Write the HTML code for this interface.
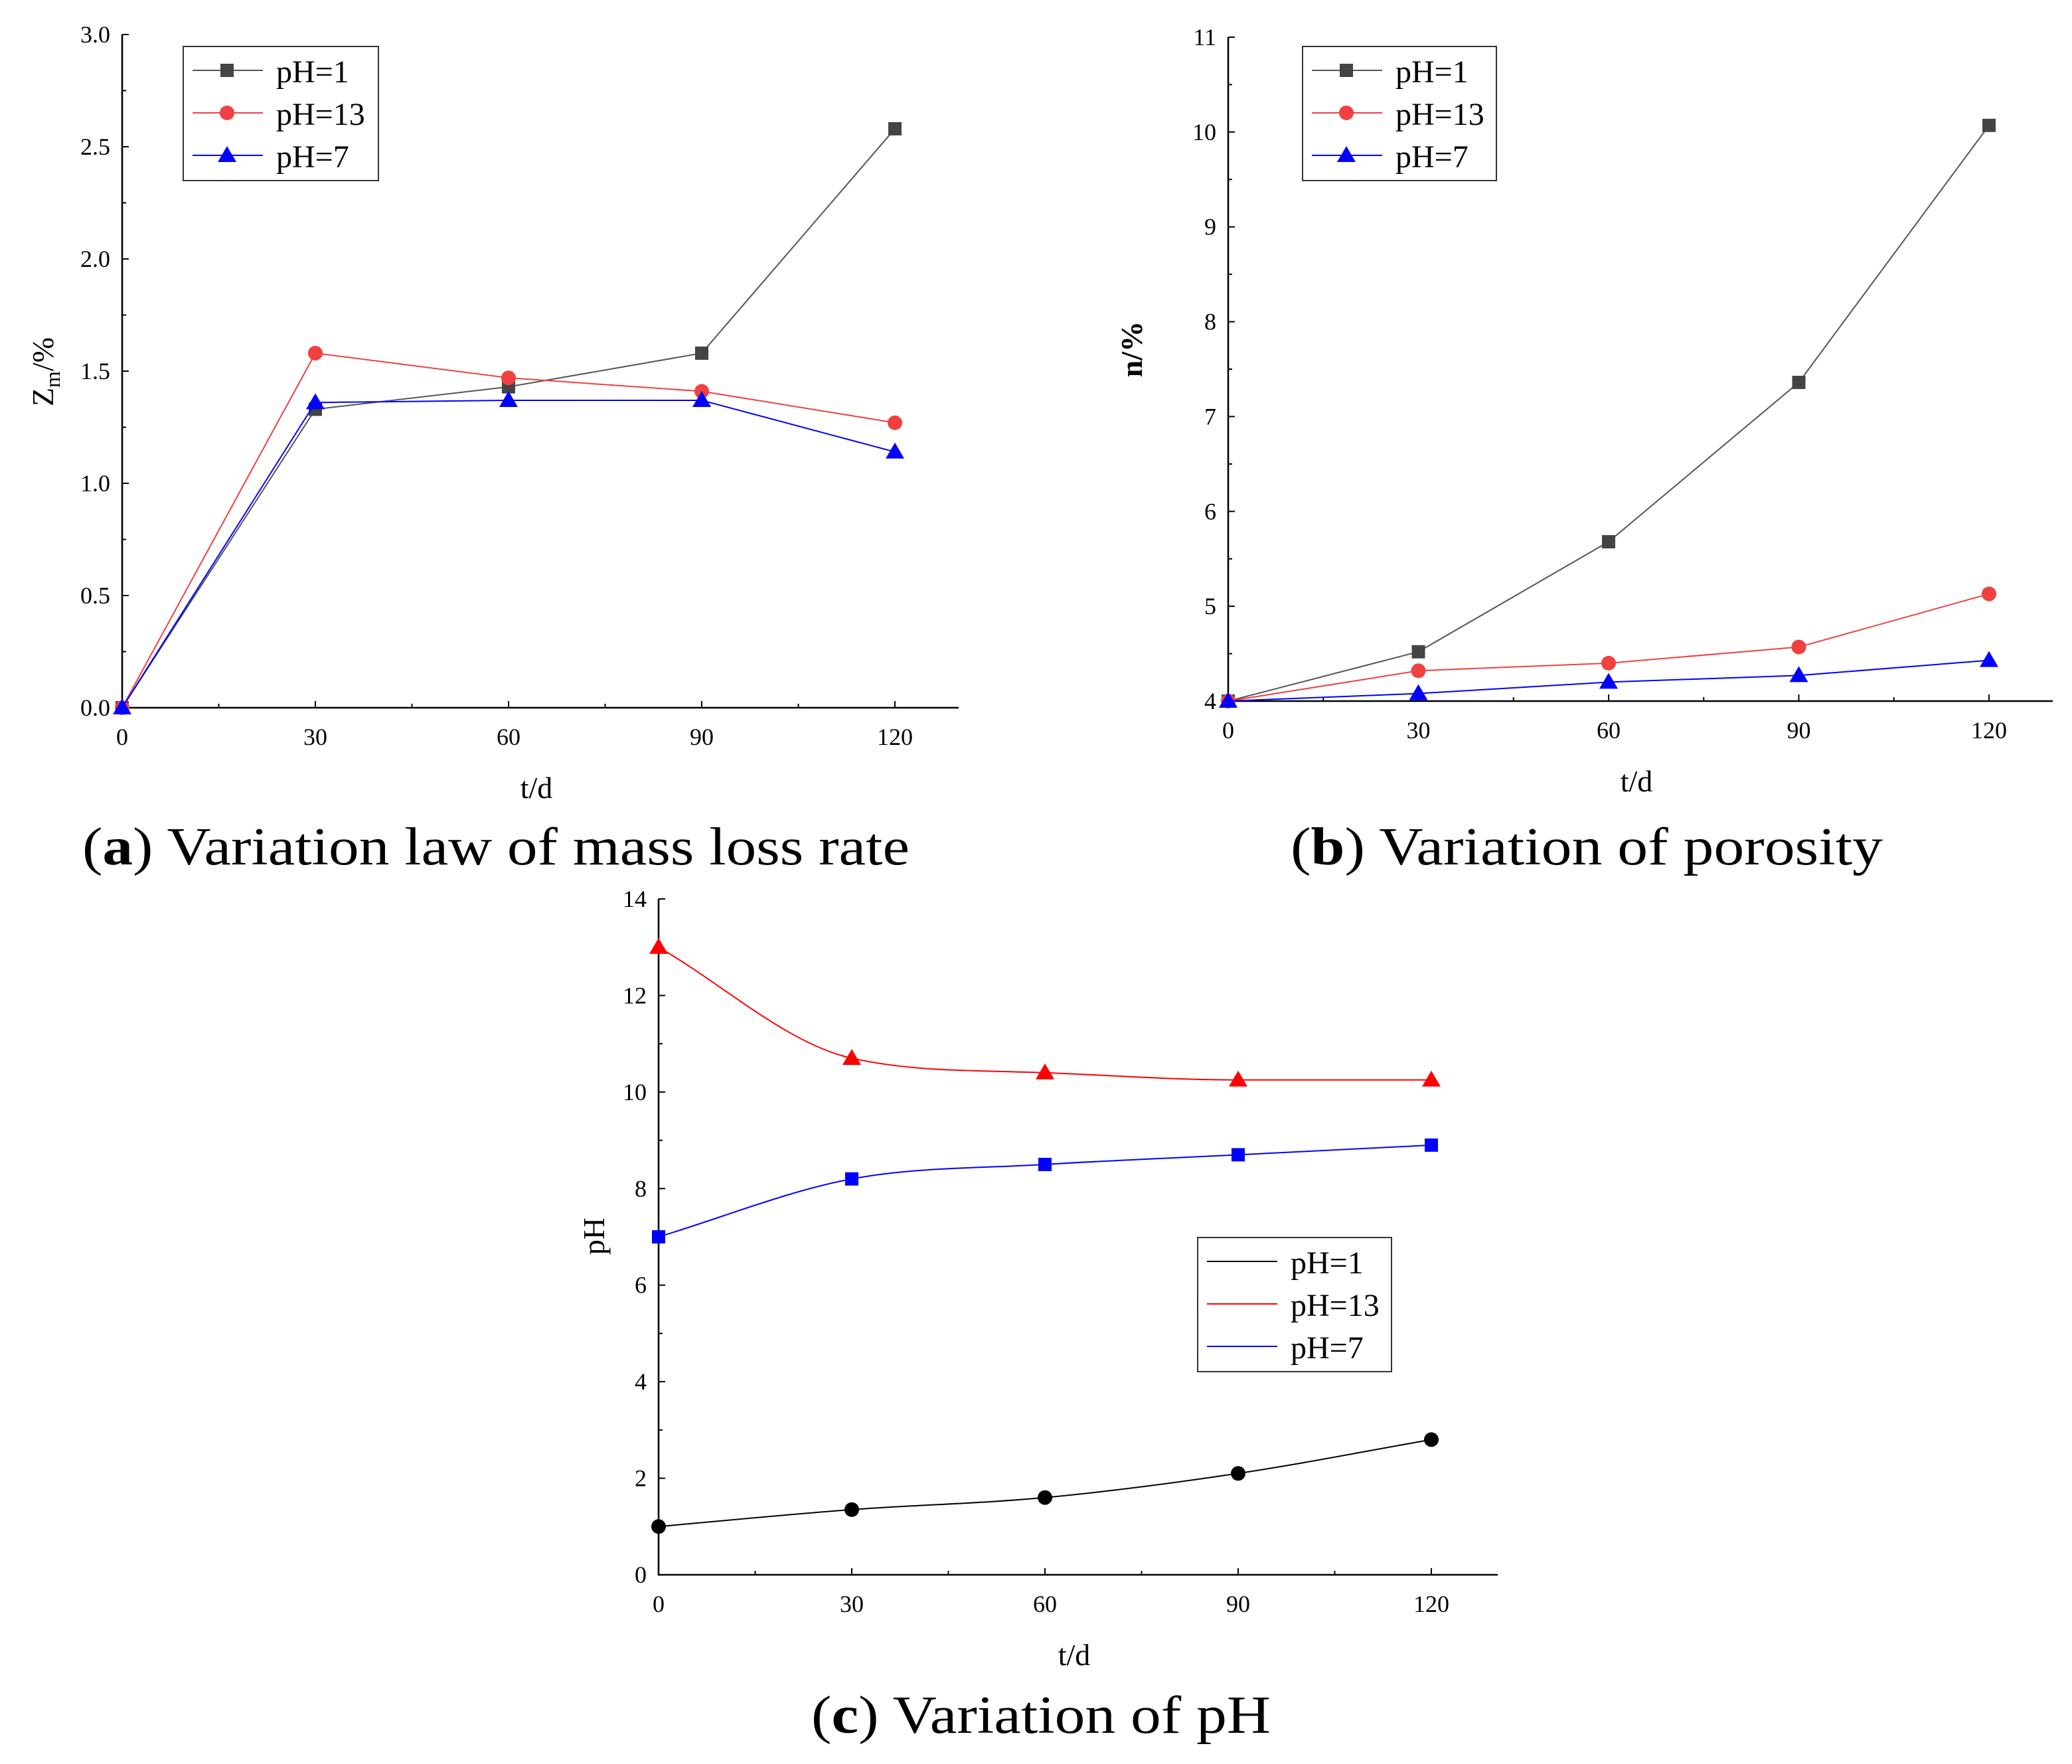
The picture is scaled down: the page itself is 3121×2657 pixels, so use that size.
<!DOCTYPE html>
<html><head><meta charset="utf-8"><style>
html,body{margin:0;padding:0;background:#fff}
svg{display:block}
svg text{font-family:"Liberation Serif","DejaVu Serif",serif;fill:#000}
</style></head><body>
<svg id="fig" width="3121" height="2657" viewBox="0 0 1560.5 1328.5" xmlns="http://www.w3.org/2000/svg" font-family="Liberation Serif, serif"></svg>
<script>
const days = [0, 30, 60, 90, 120];
const aPH1 = [0, 1.33, 1.43, 1.58, 2.58];
const aPH13 = [0, 1.58, 1.47, 1.41, 1.27];
const aPH7 = [0, 1.36, 1.37, 1.37, 1.14];
const aTicks = ["0.0","0.5","1.0","1.5","2.0","2.5","3.0"];
const bPH1 = [4, 4.52, 5.68, 7.36, 10.07];
const bPH13 = [4, 4.32, 4.40, 4.57, 5.13];
const bPH7 = [4, 4.08, 4.20, 4.27, 4.43];
const bTicks = ["4","5","6","7","8","9","10","11"];
const cPH1 = [1.0, 1.35, 1.6, 2.1, 2.8];
const cPH13 = [13.0, 10.7, 10.4, 10.25, 10.25];
const cPH7 = [7.0, 8.2, 8.5, 8.7, 8.9];
const cTicks = ["0","2","4","6","8","10","12","14"];
const xTicks = ["0","30","60","90","120"];

const NS="http://www.w3.org/2000/svg";
const svg=document.getElementById('fig');
function mk(tag,attrs,parent){const e=document.createElementNS(NS,tag);for(const k in attrs)e.setAttribute(k,attrs[k]);(parent||svg).appendChild(e);return e;}

function monoPath(P){
  const n=P.length,dx=[],m=[],t=[];
  for(let i=0;i<n-1;i++){dx[i]=P[i+1][0]-P[i][0];m[i]=(P[i+1][1]-P[i][1])/dx[i];}
  t[0]=m[0];t[n-1]=m[n-2];
  for(let i=1;i<n-1;i++){t[i]=(m[i-1]*m[i]<=0)?0:(m[i-1]+m[i])/2;}
  for(let i=0;i<n-1;i++){if(m[i]===0){t[i]=0;t[i+1]=0;continue;}const a=t[i]/m[i],b=t[i+1]/m[i],s=a*a+b*b;if(s>9){const k=3/Math.sqrt(s);t[i]=k*a*m[i];t[i+1]=k*b*m[i];}}
  let d=`M${P[0][0]},${P[0][1]}`;
  for(let i=0;i<n-1;i++){const h=dx[i]/3;d+=` C${P[i][0]+h},${P[i][1]+t[i]*h} ${P[i+1][0]-h},${P[i+1][1]-t[i+1]*h} ${P[i+1][0]},${P[i+1][1]}`;}
  return d;
}

function panel(id,o){
  const g=mk('g',{});
  
  
  const X=d=>o.x0+(d-0)/120*(o.x1-o.x0);
  const Y=v=>o.y0-(v-o.ymin)/(o.ymax-o.ymin)*(o.y0-o.y1);
  const ax=mk('path',{d:`M${o.x0},${o.y1} V${o.y0} H${o.xend}`,stroke:'#000','stroke-width':1.3,fill:'none'},g);
  
  
  for(let d=0;d<=135;d+=15){const x=X(d);if(x>o.xend)break;mk('line',{x1:x,x2:x,y1:o.y0,y2:o.y0-(d%30==0?5:3),stroke:'#000','stroke-width':1},g);}
  for(let i=0;i<xTicks.length;i++){const t=mk('text',{x:X(days[i]),y:o.y0+28,'text-anchor':'middle','font-size':18},g);t.textContent=xTicks[i];
    }
  const n=o.ticks.length;
  for(let i=0;i<n;i++){const v=o.ymin+i*o.step;const y=Y(v);
    mk('line',{x1:o.x0,x2:o.x0+5,y1:y,y2:y,stroke:'#000','stroke-width':1},g);
    if(i<n-1){const ym=Y(v+o.step/2);mk('line',{x1:o.x0,x2:o.x0+3,y1:ym,y2:ym,stroke:'#000','stroke-width':1},g);}
    const t=mk('text',{x:o.x0-9,y:y+6,'text-anchor':'end','font-size':18},g);t.textContent=o.ticks[i];
    }
  const xl=mk('text',{x:(o.x0+o.xend)/2-3,y:o.y0+68,'text-anchor':'middle','font-size':23},g);xl.textContent='t/d';
  
  o.series.forEach(s=>{
    let d;
    if(o.smooth){d=monoPath(s.v.map((v,i)=>[X(days[i]),Y(v)]));}
    else d=s.v.map((v,i)=>(i?'L':'M')+X(days[i])+','+Y(v)).join(' ');
    const l=mk('path',{d,stroke:s.c,'stroke-width':1,fill:'none'},g);
    
    s.v.forEach((v,i)=>{const m=marker(s.m,X(days[i]),Y(v),s.mc||s.c,g);
      });
  });
  const L=o.leg;
  const lg=mk('g',{},g);
  mk('rect',{x:L.x,y:L.y,width:L.w,height:L.h,fill:'#fff',stroke:'#333','stroke-width':1},lg);
  o.series.forEach((s,i)=>{const y=L.y+18+i*32;
    mk('line',{x1:L.x+7,x2:L.x+60,y1:y,y2:y,stroke:s.c,'stroke-width':1},lg);
    if(o.legMarkers)marker(s.m,L.x+33,y,s.mc||s.c,lg);
    const t=mk('text',{x:L.x+70,y:y+9,'font-size':24},lg);t.textContent=s.label;
    });
}
function marker(m,x,y,c,g){
  if(m==='s')return mk('rect',{x:x-5,y:y-5,width:10,height:10,fill:c},g);
  if(m==='c')return mk('circle',{cx:x,cy:y,r:5.5,fill:c},g);
  return mk('path',{d:`M${x},${y-7} L${x+7},${y+5} L${x-7},${y+5}Z`,fill:c},g);
}

panel('mass-loss',{x0:92,x1:674,xend:722,y0:533,y1:26,ymin:0,ymax:3,step:0.5,ticks:aTicks,legMarkers:true,
  leg:{x:138,y:35,w:147,h:101},
  series:[{name:'ph1',label:'pH=1',v:aPH1,c:'#555',mc:'#444',m:'s'},{name:'ph13',label:'pH=13',v:aPH13,c:'#f04040',m:'c'},{name:'ph7',label:'pH=7',v:aPH7,c:'#0000ff',m:'t'}]});
panel('porosity',{x0:925,x1:1498,xend:1546,y0:528,y1:28,ymin:4,ymax:11,step:1,ticks:bTicks,legMarkers:true,
  leg:{x:981,y:35,w:146,h:101},
  series:[{name:'ph1',label:'pH=1',v:bPH1,c:'#555',mc:'#444',m:'s'},{name:'ph13',label:'pH=13',v:bPH13,c:'#f04040',m:'c'},{name:'ph7',label:'pH=7',v:bPH7,c:'#0000ff',m:'t'}]});
panel('ph-variation',{x0:496,x1:1078,xend:1128,y0:1186,y1:677,ymin:0,ymax:14,step:2,ticks:cTicks,legMarkers:false,smooth:true,
  leg:{x:902,y:932,w:146,h:101},
  series:[{name:'ph1',label:'pH=1',v:cPH1,c:'#000',m:'c'},{name:'ph13',label:'pH=13',v:cPH13,c:'#ff0000',m:'t'},{name:'ph7',label:'pH=7',v:cPH7,c:'#0000ff',m:'s'}]});

function txt(s,attrs,name){const t=mk('text',attrs);t.innerHTML=s;return t;}
txt('Z<tspan font-size="16" dy="5">m</tspan><tspan dy="-5">/%</tspan>',{x:0,y:0,'font-size':23,transform:'translate(40,280) rotate(-90)','text-anchor':'middle'},'mass-loss-y-axis-title');
txt('n/%',{x:0,y:0,'font-size':23,'font-weight':'bold',transform:'translate(860,263) rotate(-90)','text-anchor':'middle'},'porosity-y-axis-title');
txt('pH',{x:0,y:0,'font-size':23,transform:'translate(455,931) rotate(-90)','text-anchor':'middle'},'ph-y-axis-title');
txt('(<tspan font-weight="bold">a</tspan>) Variation law of mass loss rate',{x:62,y:651,'font-size':40,textLength:623,lengthAdjust:'spacingAndGlyphs'},'caption-a');
txt('(<tspan font-weight="bold">b</tspan>) Variation of porosity',{x:972,y:651,'font-size':40,textLength:446,lengthAdjust:'spacingAndGlyphs'},'caption-b');
txt('(<tspan font-weight="bold">c</tspan>) Variation of pH',{x:611,y:1305,'font-size':40,textLength:346,lengthAdjust:'spacingAndGlyphs'},'caption-c');
</script>
</body></html>
